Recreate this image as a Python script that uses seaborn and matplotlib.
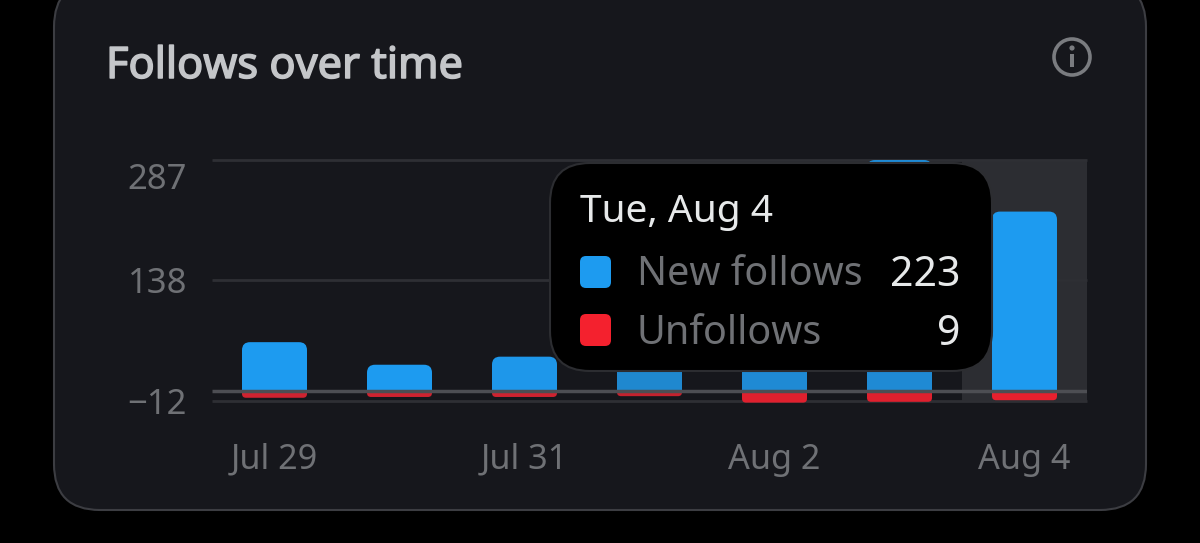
import matplotlib
matplotlib.use("Agg")
import matplotlib.pyplot as plt
import matplotlib.patheffects as pe
import seaborn as sns
from matplotlib.patches import Circle, FancyBboxPatch, PathPatch, Rectangle
from matplotlib.path import Path
from matplotlib.transforms import ScaledTranslation

sns.set_theme(style="white")
plt.rcParams["font.family"] = ["Noto Sans", "DejaVu Sans"]

dates = ["Jul 29", "Jul 30", "Jul 31", "Aug 1", "Aug 2", "Aug 3", "Aug 4"]
new_follows = [61, 33, 43, 60, 110, 287, 223]
unfollows = [6, 5, 5, 4, 12, 11, 9]
x_labels = ["Jul 29", "", "Jul 31", "", "Aug 2", "", "Aug 4"]
y_ticks = [-12, 138, 287]
y_labels = ["\u221212", "138", "287"]
new_colors = ["#1d9bf0", "#1d9bf0", "#1e97ea", "#1f88cf", "#1f8ad4", "#1f8ad4", "#1d9bf0"]
red_colors = ["#cf2330", "#cf2330", "#cf2330", "#c4222e", "#e0202e", "#e0202e", "#e8202e"]

W, H = 1200, 543
CARD = "#16171c"
MUTED = "#6f7175"


def round_bars(ax, patches, radius, top):
    """Swap the square bars for ones rounded on one end, radius in pixels."""
    rx = radius * 7 / 875
    ry = radius * 299 / 241
    for bar in patches:
        x0, x1 = bar.get_x(), bar.get_x() + bar.get_width()
        y0, y1 = sorted((bar.get_y(), bar.get_y() + bar.get_height()))
        if top:
            verts = [(x0, y0), (x0, y1 - ry), (x0, y1), (x0 + rx, y1), (x1 - rx, y1),
                     (x1, y1), (x1, y1 - ry), (x1, y0), (x0, y0)]
        else:
            verts = [(x0, y1), (x0, y0 + ry), (x0, y0), (x0 + rx, y0), (x1 - rx, y0),
                     (x1, y0), (x1, y0 + ry), (x1, y1), (x0, y1)]
        codes = [Path.MOVETO, Path.LINETO, Path.CURVE3, Path.CURVE3, Path.LINETO,
                 Path.CURVE3, Path.CURVE3, Path.LINETO, Path.CLOSEPOLY]
        ax.add_patch(PathPatch(Path(verts, codes), facecolor=bar.get_facecolor(),
                               edgecolor="none", zorder=3, clip_on=False))
        bar.remove()


fig = plt.figure(figsize=(W / 100, H / 100), dpi=100, facecolor="black")

# card behind everything, in pixel coordinates
bg = fig.add_axes([0, 0, 1, 1], zorder=0)
bg.set_xlim(0, W)
bg.set_ylim(H, 0)
bg.axis("off")
bg.add_patch(FancyBboxPatch((54, -19), 1092, 529, boxstyle="round,pad=0,rounding_size=46",
                            facecolor=CARD, edgecolor="#3c3d42", linewidth=1.5))
title = bg.text(106, 67, "Follows over time", color="#c4c6c9", fontsize=31.2,
                va="center", ha="left")
title.set_path_effects([pe.withStroke(linewidth=1.1, foreground="#c4c6c9")])
bg.add_patch(Circle((1072, 57), 18, facecolor="none", edgecolor="#7a7c80", linewidth=2.6))
bg.add_patch(Rectangle((1070, 54), 4, 13, facecolor="#7a7c80", edgecolor="none"))
bg.add_patch(Circle((1072, 48), 2.6, facecolor="#7a7c80", edgecolor="none"))

# chart
ax = fig.add_axes([212 / W, 1 - 401 / H, 875 / W, 241 / H], zorder=1)
ax.patch.set_alpha(0)
sns.barplot(x=dates, y=new_follows, hue=dates, palette=new_colors, legend=False,
            width=0.52, saturation=1, ax=ax)
n_new = len(ax.patches)
sns.barplot(x=dates, y=[-v for v in unfollows], hue=dates, palette=red_colors, legend=False,
            width=0.52, saturation=1, bottom=-2, ax=ax)
ax.set_xlim(-0.5, 6.5)
ax.set_ylim(-12, 287)

new_bars = list(ax.patches[:n_new])
red_bars = list(ax.patches[n_new:])
round_bars(ax, new_bars, 8, True)
round_bars(ax, red_bars, 4, False)

ax.axvspan(5.5, 6.5, facecolor="#2c2d32", edgecolor="none", zorder=0)
ax.set_yticks(y_ticks, y_labels)
ax.set_xticks(range(len(dates)), x_labels)
ax.grid(False)
ax.yaxis.grid(True, color="#2e2f34", linewidth=2)
for line in ax.get_ygridlines():
    line.set_clip_on(False)
    line.set_solid_capstyle("butt")
ax.set_axisbelow(True)
ax.axhline(0, color="#4d4e53", linewidth=2.5, zorder=5, solid_capstyle="butt")
ax.tick_params(axis="y", length=0, pad=18, labelsize=25, labelcolor=MUTED)
ax.tick_params(axis="x", length=0, pad=30, labelsize=24.6, labelcolor=MUTED)
ax.set_xlabel("")
ax.set_ylabel("")
sns.despine(ax=ax, left=True, bottom=True, top=True, right=True)

# the 287 label sits below its gridline in the original
for label, shift in zip(ax.get_yticklabels(), [0, 0, -16]):
    label.set_transform(label.get_transform() + ScaledTranslation(0, shift / 100, fig.dpi_scale_trans))

# tooltip on top
top = fig.add_axes([0, 0, 1, 1], zorder=2)
top.set_xlim(0, W)
top.set_ylim(H, 0)
top.axis("off")
top.patch.set_alpha(0)
top.add_patch(FancyBboxPatch((550, 163), 442, 208, boxstyle="round,pad=0,rounding_size=40",
                             facecolor="black", edgecolor="#2c2d31", linewidth=1.5))
top.text(580, 212, "Tue, Aug 4", color="#e7e9ea", fontsize=28, va="center", ha="left")
top.add_patch(FancyBboxPatch((580, 256), 31, 32, boxstyle="round,pad=0,rounding_size=6",
                             facecolor="#1d9bf0", edgecolor="none"))
top.add_patch(FancyBboxPatch((580, 314), 31, 32, boxstyle="round,pad=0,rounding_size=6",
                             facecolor="#f4212e", edgecolor="none"))
top.text(637, 275, "New follows", color=MUTED, fontsize=28.5, va="center", ha="left")
top.text(637, 334, "Unfollows", color=MUTED, fontsize=28.5, va="center", ha="left")
top.text(960, 275, str(new_follows[-1]), color="#e7e9ea", fontsize=29.5, va="center", ha="right")
top.text(960, 334, str(unfollows[-1]), color="#e7e9ea", fontsize=29.5, va="center", ha="right")

fig.savefig("out.png", dpi=100, facecolor=fig.get_facecolor())
